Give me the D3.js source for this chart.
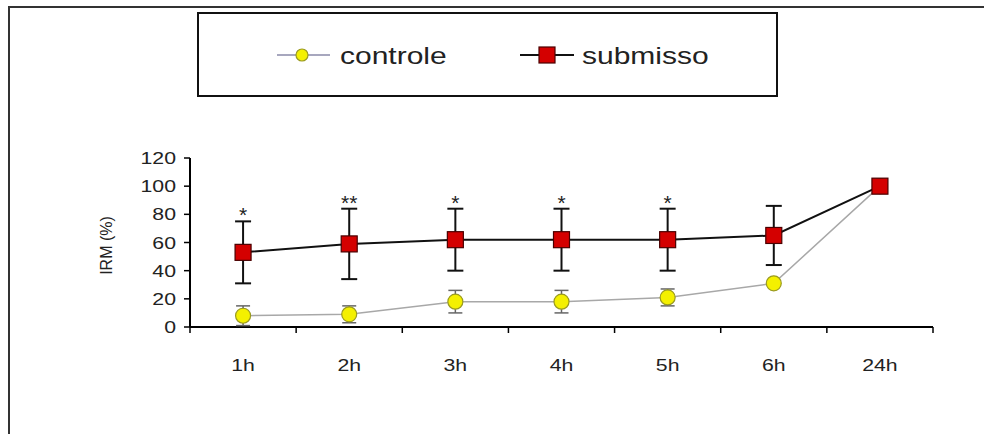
<!DOCTYPE html>
<html>
<head>
<meta charset="utf-8">
<script src="https://cdn.jsdelivr.net/npm/d3@7"></script>
<style>
  body { margin: 0; background: #fff; }
  text { font-family: "Liberation Sans", Arial, sans-serif; fill: #222; }
</style>
</head>
<body>
<div class="canvas"></div>
<script>
// data
const categories = ["1h", "2h", "3h", "4h", "5h", "6h", "24h"];
const controle = [8, 9, 18, 18, 21, 31, 100];
const controleErr = [7, 6, 8, 8, 6, 0, 0];
const submisso = [53, 59, 62, 62, 62, 65, 100];
const submissoErr = [22, 25, 22, 22, 22, 21, 0];
const stars = ["*", "**", "*", "*", "*", "", ""];
const yTicks = [0, 20, 40, 60, 80, 100, 120];

// dims
const W = 984, H = 434;
const plot = { left: 190, right: 933, top: 158, bottom: 327 };
const stretch = 1.25; // text in the picture is wider than normal

const svg = d3.select(".canvas").append("svg")
  .attr("width", W).attr("height", H);

// outer frame (only top and left edges visible)
svg.append("path")
  .attr("d", `M9,${H} L9,7 L${W},7`)
  .attr("fill", "none").attr("stroke", "#333").attr("stroke-width", 2);

// scales
const x = d3.scaleBand().domain(categories).range([plot.left, plot.right]);
const y = d3.scaleLinear().domain([0, 120]).range([plot.bottom, plot.top]);
const cx = (c) => x(c) + x.bandwidth() / 2;

// helper for stretched text
const addText = (g, tx, ty, str, size, anchor) =>
  g.append("text")
    .attr("transform", `translate(${tx},${ty}) scale(${stretch},1)`)
    .attr("text-anchor", anchor)
    .attr("font-size", size)
    .text(str);

// y axis
svg.append("line")
  .attr("x1", plot.left).attr("x2", plot.left)
  .attr("y1", y(120)).attr("y2", y(0))
  .attr("stroke", "#000").attr("stroke-width", 2);
yTicks.forEach((t) => {
  svg.append("line")
    .attr("x1", plot.left - 6).attr("x2", plot.left)
    .attr("y1", y(t)).attr("y2", y(t))
    .attr("stroke", "#000").attr("stroke-width", 1.5);
  addText(svg, plot.left - 14, y(t) + 6, t, 17, "end");
});

// x axis
svg.append("line")
  .attr("x1", plot.left).attr("x2", plot.right)
  .attr("y1", y(0)).attr("y2", y(0))
  .attr("stroke", "#000").attr("stroke-width", 2);
categories.concat(["end"]).forEach((c, i) => {
  const px = plot.left + i * x.bandwidth();
  svg.append("line")
    .attr("x1", px).attr("x2", px)
    .attr("y1", y(0)).attr("y2", y(0) + 6)
    .attr("stroke", "#000").attr("stroke-width", 1.5);
});
categories.forEach((c) => addText(svg, cx(c), 371, c, 17, "middle"));

// y label
svg.append("text")
  .attr("transform", `translate(112,${(plot.top + plot.bottom) / 2 + 3}) rotate(-90)`)
  .attr("text-anchor", "middle")
  .attr("font-size", 16)
  .text("IRM (%)");

// line generator
const line = d3.line().x((d, i) => cx(categories[i])).y((d) => y(d));

// controle
svg.append("path").datum(controle)
  .attr("d", line).attr("fill", "none")
  .attr("stroke", "#a8a8a8").attr("stroke-width", 1.5);
controle.forEach((v, i) => {
  const e = controleErr[i];
  if (!e) return;
  const px = cx(categories[i]);
  const g = svg.append("g").attr("stroke", "#666").attr("stroke-width", 1.5);
  g.append("line").attr("x1", px).attr("x2", px).attr("y1", y(v + e)).attr("y2", y(v - e));
  g.append("line").attr("x1", px - 7).attr("x2", px + 7).attr("y1", y(v + e)).attr("y2", y(v + e));
  g.append("line").attr("x1", px - 7).attr("x2", px + 7).attr("y1", y(v - e)).attr("y2", y(v - e));
});
svg.selectAll(".ctrl").data(controle).enter().append("circle")
  .attr("cx", (d, i) => cx(categories[i])).attr("cy", (d) => y(d))
  .attr("r", 7.5)
  .attr("fill", "#f4f000").attr("stroke", "#9a9a20").attr("stroke-width", 1.2);

// submisso
svg.append("path").datum(submisso)
  .attr("d", line).attr("fill", "none")
  .attr("stroke", "#111").attr("stroke-width", 2);
submisso.forEach((v, i) => {
  const e = submissoErr[i];
  if (!e) return;
  const px = cx(categories[i]);
  const g = svg.append("g").attr("stroke", "#111").attr("stroke-width", 2);
  g.append("line").attr("x1", px).attr("x2", px).attr("y1", y(v + e)).attr("y2", y(v - e));
  g.append("line").attr("x1", px - 8).attr("x2", px + 8).attr("y1", y(v + e)).attr("y2", y(v + e));
  g.append("line").attr("x1", px - 8).attr("x2", px + 8).attr("y1", y(v - e)).attr("y2", y(v - e));
  if (stars[i]) {
    svg.append("text")
      .attr("x", px).attr("y", y(v + e) + 1)
      .attr("text-anchor", "middle").attr("font-size", 21)
      .text(stars[i]);
  }
});
svg.selectAll(".sub").data(submisso).enter().append("rect")
  .attr("x", (d, i) => cx(categories[i]) - 8).attr("y", (d) => y(d) - 8)
  .attr("width", 16).attr("height", 16)
  .attr("fill", "#d40000").attr("stroke", "#4a0000").attr("stroke-width", 1.2);

// legend
const lg = svg.append("g");
lg.append("rect")
  .attr("x", 198).attr("y", 13).attr("width", 579).attr("height", 83)
  .attr("fill", "#fff").attr("stroke", "#111").attr("stroke-width", 2);
lg.append("line").attr("x1", 277).attr("x2", 330).attr("y1", 55).attr("y2", 55)
  .attr("stroke", "#8a8aa8").attr("stroke-width", 1.5);
lg.append("circle").attr("cx", 302).attr("cy", 55).attr("r", 6)
  .attr("fill", "#f4f000").attr("stroke", "#9a9a20").attr("stroke-width", 1.2);
addText(lg, 340, 64, "controle", 24, "start");
lg.append("line").attr("x1", 520).attr("x2", 574).attr("y1", 55).attr("y2", 55)
  .attr("stroke", "#111").attr("stroke-width", 2);
lg.append("rect").attr("x", 539).attr("y", 47).attr("width", 16).attr("height", 16)
  .attr("fill", "#d40000").attr("stroke", "#4a0000").attr("stroke-width", 1.2);
addText(lg, 582, 64, "submisso", 24, "start");
</script>
</body>
</html>
